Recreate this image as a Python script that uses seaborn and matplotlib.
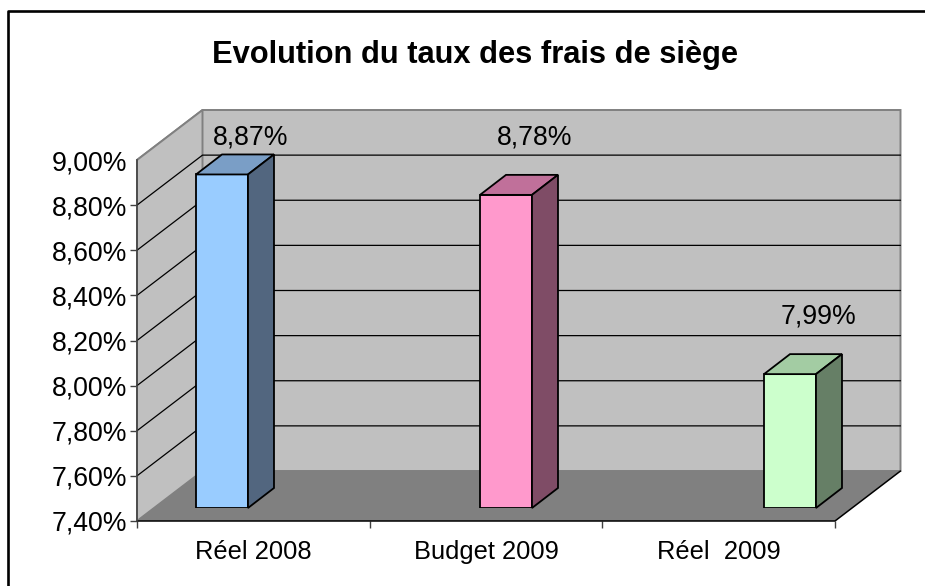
import pandas as pd
import numpy as np
import matplotlib
matplotlib.use('Agg')
import matplotlib.pyplot as plt
from matplotlib.patches import Polygon
from matplotlib.transforms import IdentityTransform
import seaborn as sns

categories = ['Réel 2008', 'Budget 2009', 'Réel  2009']
taux = [8.87, 8.78, 7.99]
bar_labels = ['8,87%', '8,78%', '7,99%']
y_ticks = [7.4, 7.6, 7.8, 8.0, 8.2, 8.4, 8.6, 8.8, 9.0]
y_labels = ['7,40%', '7,60%', '7,80%', '8,00%', '8,20%', '8,40%', '8,60%', '8,80%', '9,00%']
front_colors = ['#99CCFF', '#FF99CC', '#CCFFCC']
top_colors = ['#7A9EC6', '#C0709A', '#A3CCA3']
side_colors = ['#52667F', '#7F4C66', '#667F66']

WIDTH, HEIGHT = 925, 586
BASE = y_ticks[0]
WALL_DEPTH = np.array([65.5, 50.0])
BAR_DEPTH = np.array([26.0, 20.0])

sns.set_theme(style='white')
plt.rcParams['font.family'] = ['Liberation Sans', 'DejaVu Sans']


def px_axes(fig, left, right, top, bottom):
    # axes placed from pixel positions of the reference (y counted from the top)
    return fig.add_axes([left / WIDTH, 1 - bottom / HEIGHT,
                         (right - left) / WIDTH, (bottom - top) / HEIGHT])


fig = plt.figure(figsize=(WIDTH / 100, HEIGHT / 100), dpi=100)

# front plane of the chart, carries the axes and the walls
ax = px_axes(fig, 137, 835, 160, 521)
ax.set_xlim(0, 3)
ax.set_ylim(BASE, y_ticks[-1])
ax.patch.set_visible(False)


def front(xfrac, value):
    return ax.get_yaxis_transform().transform((xfrac, value))


def add_poly(target, pts, **kws):
    target.add_patch(Polygon(pts, closed=True, transform=IdentityTransform(),
                             clip_on=False, **kws))


wall_top = y_ticks[-1]
add_poly(ax, [front(0, wall_top), front(0, wall_top) + WALL_DEPTH,
              front(1, wall_top) + WALL_DEPTH, front(1, BASE) + WALL_DEPTH,
              front(0, BASE) + WALL_DEPTH],
         facecolor='#C0C0C0', edgecolor='#808080', linewidth=1.4, zorder=0.5)
add_poly(ax, [front(0, wall_top), front(0, wall_top) + WALL_DEPTH,
              front(0, BASE) + WALL_DEPTH, front(0, BASE)],
         facecolor='#C0C0C0', edgecolor='#808080', linewidth=1.4, zorder=0.6)
add_poly(ax, [front(0, BASE), front(0, BASE) + WALL_DEPTH,
              front(1, BASE) + WALL_DEPTH, front(1, BASE)],
         facecolor='#808080', edgecolor='none', zorder=0.7)

# gridlines run along the side wall then across the back wall
for v in y_ticks[1:-1]:
    pts = np.array([front(0, v), front(0, v) + WALL_DEPTH, front(1, v) + WALL_DEPTH])
    ax.plot(pts[:, 0], pts[:, 1], color='black', linewidth=0.9,
            transform=IdentityTransform(), clip_on=False, zorder=0.8)

# front and right edge of the floor
edge = np.array([front(0, BASE), front(1, BASE), front(1, BASE) + WALL_DEPTH])
ax.plot(edge[:, 0], edge[:, 1], color='black', linewidth=1.1,
        transform=IdentityTransform(), clip_on=False, zorder=0.9)

ax.set_yticks(y_ticks)
ax.set_yticklabels(y_labels, fontsize=19.2, color='black')
ax.set_xticks([0, 1, 2, 3])
ax.set_xticklabels([])
ax.set_xticks([0.5, 1.5, 2.5], minor=True)
ax.set_xticklabels(categories, minor=True, fontsize=18.4, color='black')
ax.tick_params(axis='y', which='major', left=True, length=5, width=1, color='#404040', pad=2)
ax.tick_params(axis='x', which='major', bottom=True, length=5, width=1, color='#404040')
ax.tick_params(axis='x', which='minor', bottom=False, length=0, pad=14)
ax.yaxis.get_major_ticks()[-1].tick1line.set_visible(False)
sns.despine(ax=ax, top=True, right=True, bottom=True, left=False)
ax.spines['left'].set_color('#404040')
ax.spines['left'].set_linewidth(1.1)

# the bars stand further back, on their own axes with the same value scale
px_per_unit = 226.9
bar_bottom = 508
bar_top = bar_bottom - px_per_unit * (y_ticks[-1] - BASE)
ax_bars = px_axes(fig, 137, 900, bar_top, bar_bottom)
ax_bars.patch.set_visible(False)
ax_bars.axis('off')

df = pd.DataFrame({'categorie': categories, 'taux': taux})
df['hauteur'] = df['taux'] - BASE
sns.barplot(data=df, x='categorie', y='hauteur', hue='categorie', palette=front_colors,
            saturation=1, dodge=False, legend=False, width=0.183, bottom=BASE,
            edgecolor='black', linewidth=1.3, ax=ax_bars)
# centres 222, 506, 790 -> one category is 284 px wide
ax_bars.set_xlim((137 - 222) / 284, (900 - 222) / 284)
ax_bars.set_ylim(BASE, y_ticks[-1])

for i, bar in enumerate(ax_bars.patches[:len(categories)]):
    x0, x1 = bar.get_x(), bar.get_x() + bar.get_width()
    y0, y1 = bar.get_y(), bar.get_y() + bar.get_height()
    fl = ax_bars.transData.transform((x0, y1))
    fr = ax_bars.transData.transform((x1, y1))
    br = ax_bars.transData.transform((x1, y0))
    add_poly(ax_bars, [fl, fr, fr + BAR_DEPTH, fl + BAR_DEPTH],
             facecolor=top_colors[i], edgecolor='black', linewidth=1.3, zorder=3)
    add_poly(ax_bars, [fr, fr + BAR_DEPTH, br + BAR_DEPTH, br],
             facecolor=side_colors[i], edgecolor='black', linewidth=1.3, zorder=3)
    # label floats above the bar but stays under the top of the wall
    lx = (fl[0] + fr[0]) / 2 + 29
    ly = min(fr[1] + 58, HEIGHT - 137)
    ax_bars.text(lx, ly, bar_labels[i], transform=IdentityTransform(), ha='center',
                 va='center', fontsize=19.2, color='black', clip_on=False, zorder=4)

fig.text(475 / WIDTH, 1 - 55 / HEIGHT, 'Evolution du taux des frais de siège', ha='center',
         va='center', fontsize=22.2, fontweight='bold', color='black')

# frame of the picture: only top and left sides are visible
fig.add_artist(plt.Line2D([8 / WIDTH, 8 / WIDTH, 1], [0, 1 - 11 / HEIGHT, 1 - 11 / HEIGHT],
                          color='black', linewidth=1.9, transform=fig.transFigure))

plt.savefig('out.png', dpi=100)
